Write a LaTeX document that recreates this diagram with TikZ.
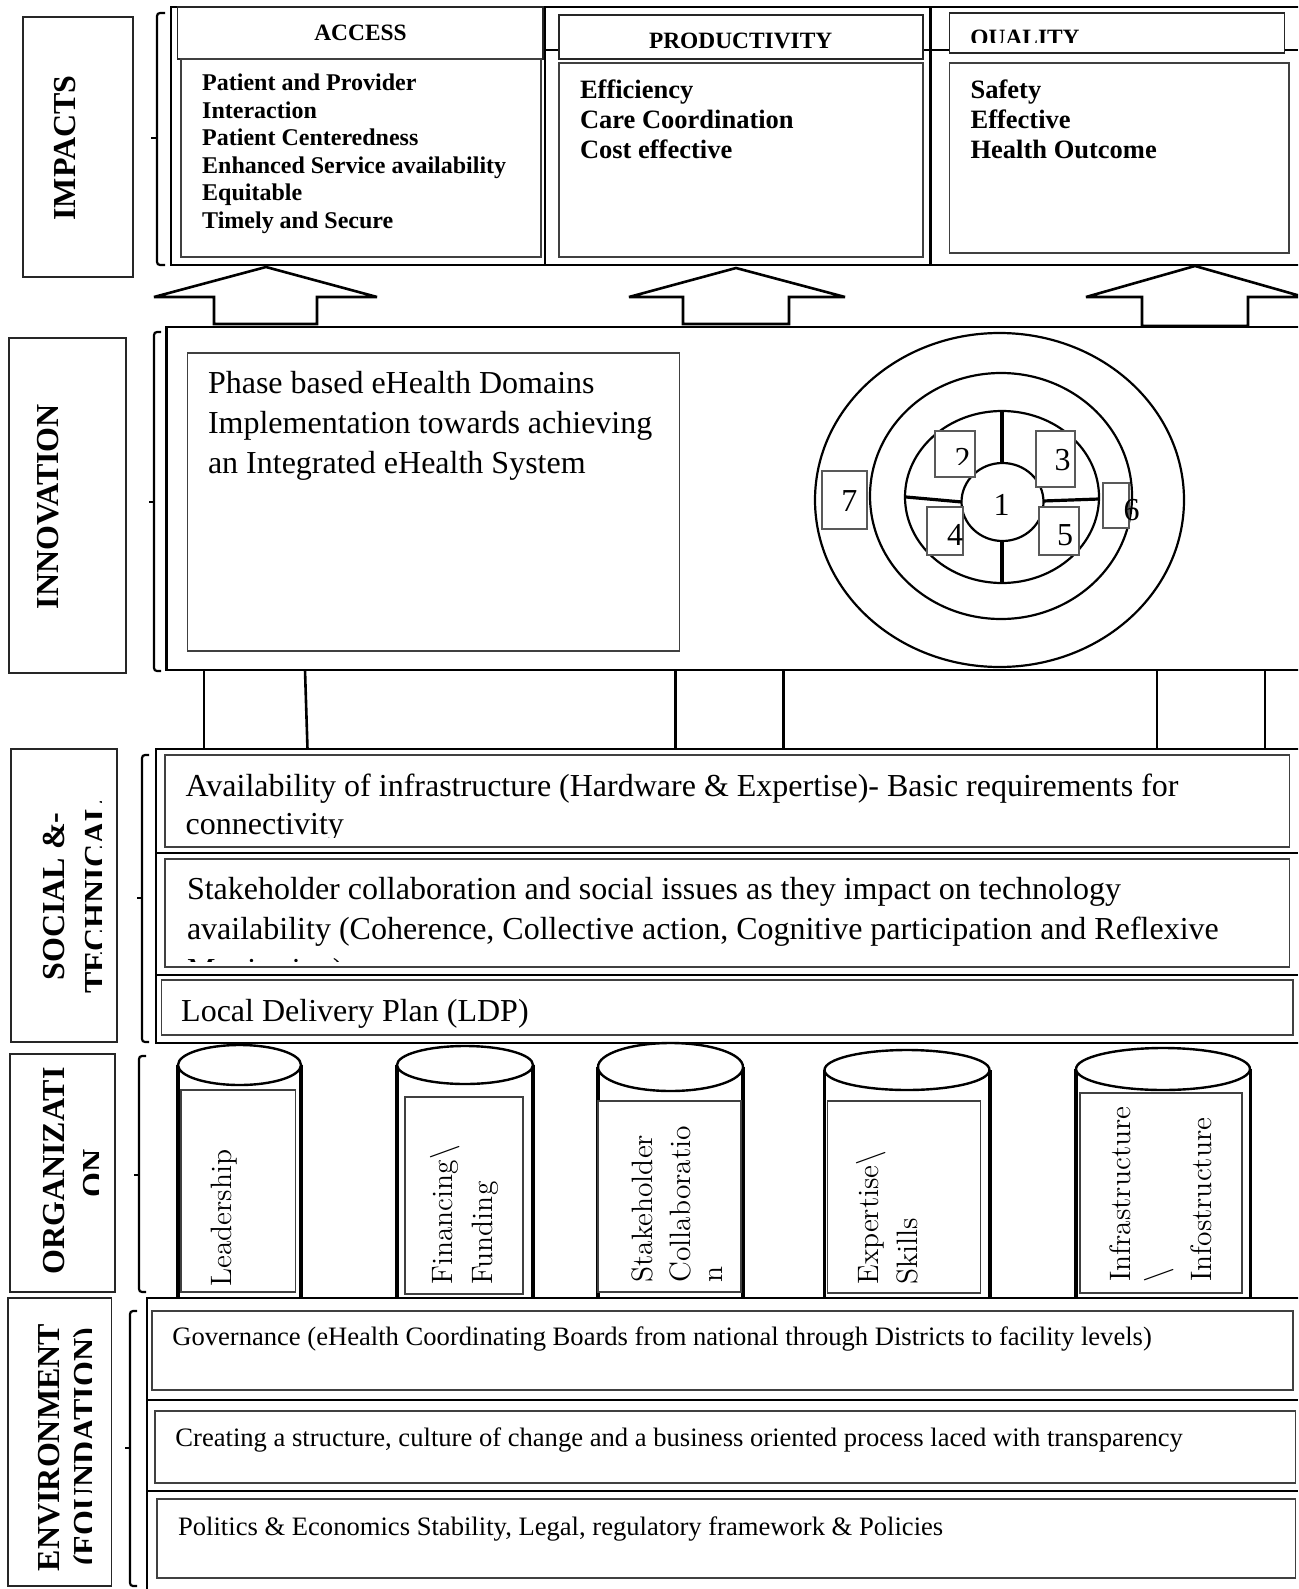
\documentclass[tikz,border=0pt]{standalone}
\usepackage{fontspec}
\setmainfont{Liberation Serif}
\begin{document}
\begin{tikzpicture}[x=0.5pt,y=-0.5pt,
  frame/.style={line width=1.3pt},
  blockarrow/.style={line width=1.3pt, miter limit=3, fill=white},
  thinbox/.style={draw=black!75, line width=0.75pt, fill=white},
  labelbox/.style={draw=black!85, line width=0.8pt},
  bracket/.style={line width=1.1pt, rounded corners=1.5pt},
  sidelabel/.style={rotate=90, anchor=base, inner sep=0pt, font=\fontsize{16}{19}\selectfont\bfseries},
  txt/.style={anchor=base west, inner sep=0pt},
  hdr/.style={anchor=base, inner sep=0pt, font=\fontsize{11.7}{14}\selectfont\bfseries},
  acclist/.style={txt, font=\fontsize{12}{14}\selectfont\bfseries},
  biglist/.style={txt, font=\fontsize{13.25}{16}\selectfont\bfseries},
  bodytext/.style={txt, font=\fontsize{16}{19}\selectfont},
  envtext/.style={txt, font=\fontsize{13.3}{16}\selectfont},
  digit/.style={anchor=base, inner sep=0pt, font=\fontsize{16}{19}\selectfont},
  ring/.style={line width=1.1pt},
  spoke/.style={line width=1.6pt},
  numbox/.style={draw=black!65, line width=0.6pt, fill=white},
  cylside/.style={line width=1.6pt},
  cyltop/.style={line width=1.2pt, fill=white},
  cyltext/.style={rotate=90, anchor=base west, inner sep=0pt, font=\fontfamily{lmr}\fontsize{14.75}{18}\selectfont},
  link/.style={line width=1.3pt}
]
\useasboundingbox (0,0) rectangle (1298,1589);
\clip (0,0) rectangle (1298,1589);

% ================= IMPACTS =================
\draw[labelbox] (23,17) rectangle (133,277);
\node[sidelabel] (impactsLbl) at (75,148) {IMPACTS};
\draw[bracket] (165,13) -- (157,13) -- (157,265) -- (165,265);
\draw[bracket] (157,138) -- (151,138);

% outer table of the three impact columns
\draw[frame] (1320,7) -- (171,7) -- (171,265) -- (1320,265);
\draw[frame] (545,7) -- (545,265);
\draw[frame] (930.6,7) -- (930.6,265);
\draw[line width=0.9pt] (545,50) -- (1298,50);

% column headers and bodies
\draw[thinbox, draw=black!85] (177.5,7) rectangle (543,59);
\draw[thinbox] (181,59) rectangle (541,257);
\draw[thinbox, draw=black!85] (559,15) rectangle (923,59);
\draw[thinbox] (559,63) rectangle (923,257);
\draw[thinbox, draw=black!85] (949.5,13) rectangle (1284.5,53);
\draw[thinbox] (949.5,63) rectangle (1289,253);

\node[hdr] (accessHd) at (360.5,40.5) {ACCESS};
\node[hdr] (prodHd) at (740.7,48.5) {PRODUCTIVITY};
\begin{scope}
  \clip (949.5,13) rectangle (1284.5,43);
  \node[hdr, anchor=base west] (qualHd) at (970,45.5) {QUALITY};
\end{scope}

\foreach \t [count=\i] in {Patient and Provider, Interaction, Patient Centeredness,
    Enhanced Service availability, Equitable, Timely and Secure}
  \node[acclist] (acc\i) at (201.8,{91+27.5*(\i-1)}) {\t};
\foreach \t [count=\i] in {Efficiency, Care Coordination, Cost effective}
  \node[biglist] (prod\i) at (579.6,{99+30*(\i-1)}) {\t};
\foreach \t [count=\i] in {Safety, Effective, Health Outcome}
  \node[biglist] (qual\i) at (970.2,{99+30*(\i-1)}) {\t};

% block arrows from innovation up to the impacts
\draw[blockarrow] (214,324) -- (214,297) -- (154,297) -- (266,267) -- (377,297) -- (317,297) -- (317,324) -- cycle;
\draw[blockarrow] (683,324) -- (683,297) -- (629,297) -- (736,268) -- (845,297) -- (789,297) -- (789,324) -- cycle;
\draw[blockarrow] (1142,326) -- (1142,297) -- (1086,297) -- (1195,266) -- (1304,297) -- (1248,297) -- (1248,326) -- cycle;

% ================= INNOVATION =================
\draw[labelbox] (9,338) rectangle (126,673);
\node[sidelabel] (innoLbl) at (58,506.7) {INNOVATION};
\draw[bracket] (161,332) -- (154,332) -- (154,671) -- (161,671);
\draw[bracket] (154,502) -- (149,502);

\draw[frame] (1320,327) -- (166.5,327) -- (166.5,670) -- (1320,670);
\draw[thinbox] (187.5,353) rectangle (679.5,651);
\node[bodytext] (inno1) at (207.6,393.7) {Phase based eHealth Domains};
\node[bodytext] (inno2) at (207.6,433.7) {Implementation towards achieving};
\node[bodytext] (inno3) at (207.6,473.7) {an Integrated eHealth System};

% concentric domain rings
\draw[ring] (999.5,500) ellipse [x radius=184.5, y radius=167];
\draw[ring] (1001,496) ellipse [x radius=131, y radius=123];
\draw[ring] (1002,497) ellipse [x radius=97, y radius=86];
\draw[ring] (1002.5,502) ellipse [x radius=41, y radius=39];
\draw[spoke] (1002,412) -- (1002,463);
\draw[spoke] (1002,541) -- (1002,583);
\draw[spoke] (906,497) -- (962,502);
\draw[spoke] (1043,501) -- (1099,499);

\draw[numbox] (935,431) rectangle (975,477);
\draw[numbox] (1036,431) rectangle (1075,487);
\draw[numbox] (822,471) rectangle (867,529);
\draw[numbox] (1103,483) rectangle (1129,528);
\draw[numbox] (927,507) rectangle (963,555);
\draw[numbox] (1039,507) rectangle (1079,555);

\node[digit] (d1) at (1001.7,515) {1};
\begin{scope}
  \clip (935,431) rectangle (975,464);
  \node[digit] (d2) at (962.7,469.5) {2};
\end{scope}
\node[digit] (d3) at (1062.7,470.5) {3};
\node[digit] (d4) at (955,545) {4};
\node[digit] (d5) at (1065,545) {5};
\node[digit] (d6) at (1131.7,520) {6};
\node[digit] (d7) at (849.3,511.5) {7};

% links between innovation and the socio-technical layer
\foreach \xa/\xb [count=\i] in {204/204, 305/307.5, 675.5/675.5, 783.5/783.5, 1157/1157, 1265/1265} {
  \coordinate (up\i) at (\xa,670);
  \coordinate (dn\i) at (\xb,749);
  \draw[link] (up\i) -- (dn\i);
}

% ================= SOCIAL & TECHNICAL =================
\draw[labelbox] (11,749) rectangle (117,1042);
\begin{scope}
  \clip (11,749) rectangle (101,1042);
  \node[sidelabel] (socLbl1) at (64,896.5) {SOCIAL \&-};
  \node[sidelabel] (socLbl2) at (106,897) {TECHNICAL};
\end{scope}
\draw[bracket] (149,755) -- (142,755) -- (142,1042) -- (149,1042);
\draw[bracket] (142,898) -- (137,898);

\draw[frame] (1320,749) -- (156,749) -- (156,1043) -- (1320,1043);
\draw[frame] (156,853) -- (1298,853);
\draw[frame] (156,975) -- (1298,975);
\draw[thinbox] (165,755) rectangle (1289.6,847);
\draw[thinbox] (165,859) rectangle (1289.6,967);
\draw[thinbox] (161.6,980) rectangle (1293,1035);

\begin{scope}
  \clip (165,755) rectangle (1289.6,837);
  \node[bodytext] (infra1) at (185.3,796) {Availability of infrastructure (Hardware \& Expertise)- Basic requirements for};
  \node[bodytext] (infra2) at (185.3,834.5) {connectivity};
\end{scope}
\begin{scope}
  \clip (165,859) rectangle (1289.6,961);
  \node[bodytext] (stake1) at (186.6,899) {Stakeholder collaboration and social issues as they impact on technology};
  \node[bodytext] (stake2) at (186.6,939) {availability (Coherence, Collective action, Cognitive participation and Reflexive};
  \node[bodytext] (stake3) at (186.6,980) {Monitoring)};
\end{scope}
\node[bodytext] (ldp) at (180.8,1021) {Local Delivery Plan (LDP)};

% ================= ORGANIZATION =================
\draw[labelbox] (10,1054) rectangle (115,1292);
\begin{scope}
  \clip (10,1054) rectangle (98,1292);
  \node[sidelabel] (orgLbl1) at (64,1171) {ORGANIZATI};
  \node[sidelabel] (orgLbl2) at (104,1173) {ON};
\end{scope}
\draw[bracket] (146,1056) -- (139,1056) -- (139,1292) -- (146,1292);
\draw[bracket] (139,1175) -- (134,1175);

% pillar 1
\draw[cylside] (178,1065) -- (178,1297) (301,1065) -- (301,1297);
\draw[cyltop] (239.5,1065) ellipse [x radius=61.5, y radius=20];
\draw[thinbox] (181,1090) rectangle (295.5,1292);
\node[cyltext] (cyl1a) at (231,1287) {Leadership};
% pillar 2
\draw[cylside] (397,1065) -- (397,1297) (533,1065) -- (533,1297);
\draw[cyltop] (465,1065) ellipse [x radius=68, y radius=19];
\draw[thinbox] (405,1097) rectangle (523,1294);
\node[cyltext] (cyl2a) at (452,1285) {Financing\textbackslash};
\node[cyltext] (cyl2b) at (492,1285) {Funding};
% pillar 3
\draw[cylside] (598,1067) -- (598,1297) (743,1067) -- (743,1297);
\draw[cyltop] (670.5,1067) ellipse [x radius=72.5, y radius=24];
\draw[thinbox] (598,1101) rectangle (741,1292);
\node[cyltext] (cyl3a) at (652,1283) {Stakeholder};
\node[cyltext] (cyl3b) at (690,1283) {Collaboratio};
\node[cyltext] (cyl3c) at (722,1283) {n};
% pillar 4
\draw[cylside] (824.6,1070) -- (824.6,1297) (990,1070) -- (990,1297);
\draw[cyltop] (907,1070) ellipse [x radius=82.5, y radius=20];
\draw[thinbox] (827.6,1101) rectangle (980.7,1293);
\node[cyltext] (cyl4a) at (878,1285) {Expertise\textbackslash};
\node[cyltext] (cyl4b) at (917,1285) {Skills};
% pillar 5
\draw[cylside] (1076,1069) -- (1076,1297) (1250.6,1069) -- (1250.6,1297);
\draw[cyltop] (1163,1069) ellipse [x radius=87, y radius=21];
\draw[thinbox] (1080,1093) rectangle (1242,1293);
\node[cyltext] (cyl5a) at (1130,1282) {Infrastructure};
\node[cyltext] (cyl5b) at (1166,1283) {\textbackslash};
\node[cyltext] (cyl5c) at (1211,1282) {Infostructure};

% ================= ENVIRONMENT =================
\draw[labelbox] (8,1298) rectangle (111.6,1586);
\begin{scope}
  \clip (8,1298) rectangle (91,1586);
  \node[sidelabel] (envLbl1) at (59,1447.5) {ENVIRONMENT};
  \node[sidelabel] (envLbl2) at (95,1447) {(FOUNDATION)};
\end{scope}
\draw[bracket] (137,1311) -- (130,1311) -- (130,1586) -- (137,1586);
\draw[bracket] (130,1448) -- (125,1448);

\draw[frame] (1320,1298) -- (147,1298) -- (147,1620);
\draw[frame] (147,1400) -- (1298,1400);
\draw[frame] (147,1491) -- (1298,1491);
\draw[thinbox] (152,1311) rectangle (1293,1390);
\draw[thinbox] (155,1411) rectangle (1295.5,1483);
\draw[thinbox] (157,1499) rectangle (1295.5,1578);
\node[envtext] (gov) at (171.9,1345) {Governance (eHealth Coordinating Boards from national through Districts to facility levels)};
\node[envtext] (culture) at (175,1446.7) {Creating a structure, culture of change and a business oriented process laced with transparency};
\node[envtext] (politics) at (177.7,1535) {Politics \& Economics Stability, Legal, regulatory framework \& Policies};
\end{tikzpicture}
\end{document}
